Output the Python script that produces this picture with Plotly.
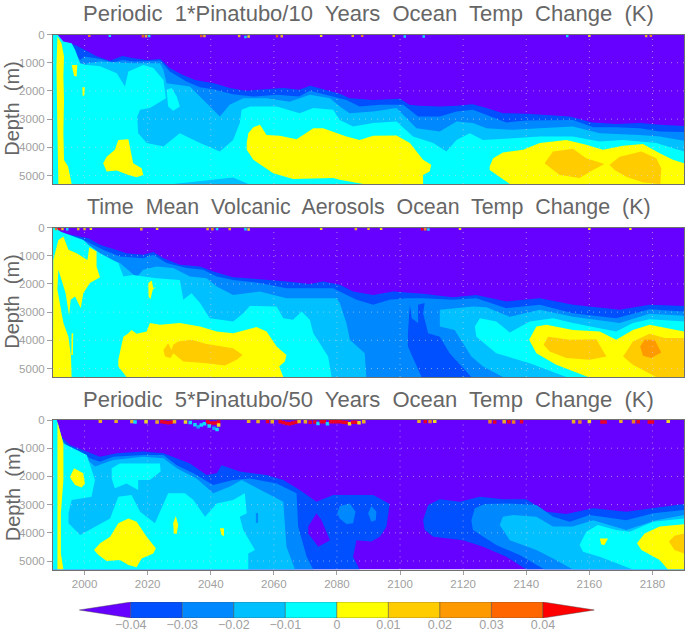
import plotly.graph_objects as go

# ---- axis and scale values
YEAR_RANGE = [1990, 2190]
DEPTH_RANGE = [5300, 0]
YEAR_TICKS = [2000, 2020, 2040, 2060, 2080, 2100, 2120, 2140, 2160, 2180]
DEPTH_TICKS = [0, 1000, 2000, 3000, 4000, 5000]
COLOR_LEVELS = [-0.04, -0.03, -0.02, -0.01, 0, 0.01, 0.02, 0.03, 0.04]
COLORS = ["#6600ff", "#0050ff", "#0088ff", "#00c0ff", "#00ffff",
          "#ffff00", "#ffcc00", "#ff9900", "#ff6600", "#ff0000"]
TITLES = ["Periodic  1*Pinatubo/10  Years  Ocean  Temp  Change  (K)",
          "Time  Mean  Volcanic  Aerosols  Ocean  Temp  Change  (K)",
          "Periodic  5*Pinatubo/50  Years  Ocean  Temp  Change  (K)"]

# ---- Panel 1 contour outlines: (year, depth m)
p1_m04 = [(1991.4,70),(1992.7,250),(1994.3,280),(1997,370),(2000,540),(2004,780),(2008,930),(2012,760),(2015.5,840),(2019.7,900),(2024,870),(2027,1190),(2031,1430),(2035,1610),(2041,1730),(2046,1900),(2051,1990),(2058,1940),(2063,1900),(2068,1960),(2071.5,1820),(2075.6,1940),(2081,2100),(2084,2260),(2091.5,2320),(2100,2280),(2103,2490),(2106,2530),(2112.6,2550),(2118,2530),(2123,2470),(2127.4,2610),(2132.6,2790),(2140,2810),(2148.5,2880),(2153.8,2910),(2161,3120),(2168.5,3170),(2176,3140),(2182.3,3200),(2190,3240),(2190,5300),(1990,5300)]
p1_m03 = [(1994.3,310),(1998.6,900),(2000,780),(2005,870),(2009,980),(2012,900),(2015.5,960),(2024,920),(2027,1310),(2032.3,1670),(2036.6,1870),(2040.8,1940),(2047,2120),(2053.5,2200),(2061,2140),(2068,2200),(2071.4,1990),(2076.7,2140),(2083,2320),(2087.2,2550),(2093.6,2490),(2101,2490),(2105.7,2910),(2112.6,2910),(2117.9,2730),(2123.1,2670),(2127.4,2850),(2133.7,3120),(2140,3050),(2148.5,3030),(2154.8,3030),(2161.2,3290),(2168.5,3290),(2176,3320),(2182.3,3440),(2190,3460),(2190,5300),(1990,5300)]
p1_m02 = [(2000.7,1020),(2004.9,960),(2015.4,1020),(2023.9,1020),(2025,1250),(2026,1730),(2033.4,1840),(2038.7,2430),(2042.9,2910),(2046,2490),(2050.3,2260),(2057.7,2260),(2065,2380),(2071.4,2140),(2077.8,2260),(2080.9,2550),(2084,2790),(2091.5,2730),(2098.9,2610),(2105.2,3320),(2112.6,3440),(2117.9,3080),(2123.1,3140),(2127.4,3320),(2135.8,3380),(2144.3,3320),(2154.8,3260),(2163.3,3500),(2176,3560),(2182.3,3620),(2190,3770),(2190,5300),(1990,5300)]
p1_m01 = [(1990,0),(1991.4,0),(1993.3,250),(1995.9,310),(1997,540),(1998.6,1020),(2000.7,1080),(2004.9,1130),(2010.2,1370),(2012.8,1840),(2013.9,1310),(2016.5,1190),(2018.6,1080),(2021.8,1190),(2025,1610),(2025.8,2260),(2020.7,2610),(2017.6,2670),(2016.7,2910),(2017,3500),(2019.7,3850),(2025,3970),(2030.2,3500),(2036.6,3850),(2042.9,4150),(2047.1,3740),(2049.2,3140),(2049.8,2670),(2052.4,2550),(2060.9,2550),(2068.2,2790),(2072.5,2610),(2078.8,2670),(2080.9,3030),(2085.1,3260),(2091.5,3140),(2098.9,3080),(2104.1,3620),(2110.5,3850),(2114.7,4150),(2117.9,3740),(2122.1,3500),(2126.3,3740),(2135.8,3680),(2144.3,3620),(2154.8,3620),(2163.3,3790),(2170.7,3740),(2181.2,3850),(2190,4150),(2190,5300),(1990,5300)]
p1_m01_bubble = [(2026,1960),(2027.6,1900),(2029.2,2200),(2030.2,2550),(2028.1,2700),(2026.5,2550)]
p1_m02_floor = [(2028.1,5300),(2036.6,5190),(2047.1,5070),(2051.9,5300)]
p1_y_stripe = [(1991.4,70),(1992.7,310),(1993.5,780),(1993.3,1490),(1993.5,2320),(1993.3,3500),(1993.5,4450),(1994.8,4680),(1995.9,5300),(1991.7,5300),(1991.4,3500),(1991.1,1130)]
p1_y_a = [(1995.9,1080),(1997.7,1080),(1997.5,1490),(1996.7,1470)]
p1_y_b = [(1999.3,1870),(2000.1,1870),(1999.9,2170),(1999.4,2170)]
p1_y_c = [(2005.9,4560),(2007,4330),(2009.6,4090),(2010.7,3740),(2013.9,3710),(2014.9,4330),(2015.4,4560),(2018.1,4740),(2018.6,4980),(2016.5,5060),(2013.9,4980),(2010.2,4820),(2007,4860)]
p1_y_d = [(2051.4,3850),(2051.9,3500),(2053.5,3290),(2055.6,3200),(2057.7,3560),(2061.9,3590),(2067.2,3710),(2072.5,3320),(2075.6,3320),(2083,3620),(2087.2,3740),(2091.5,3590),(2098.9,3580),(2103.1,3850),(2107.3,4440),(2109.9,4620),(2109.4,4860),(2107.3,4980),(2107.3,5300),(2088.3,5300),(2080.9,5150),(2078.8,5090),(2066.1,5120),(2059.8,4920),(2053.5,4440),(2051.4,4090)]
p1_y_e = [(2128.4,4680),(2129.5,4390),(2132.6,4180),(2139,4090),(2144.3,3850),(2152.7,3740),(2159,3910),(2164.3,4090),(2170.7,3940),(2177,3880),(2182.3,4210),(2186.5,4440),(2190,4560),(2190,5300),(2134.8,5300),(2130.5,4980),(2128.4,4800)]
p1_o_a = [(2145.8,4560),(2148.5,4150),(2154.8,4050),(2159,4390),(2164.8,4590),(2161.2,4800),(2156.9,5090),(2150.6,4980)]
p1_o_b = [(2166.4,4620),(2169.6,4330),(2176.5,4150),(2181.2,4390),(2182.8,4740),(2182.5,5300),(2177,5250),(2171.7,5040),(2168,4800)]

# ---- Panel 2 contour outlines
p2_m04 = [(1990.6,140),(1993.3,200),(1997.5,320),(2001.2,380),(2004.9,610),(2009.1,770),(2013.3,910),(2018.6,970),(2021.8,870),(2025,1090),(2030.2,1320),(2036.6,1380),(2040.8,1560),(2047.1,1760),(2055.6,1830),(2064,1910),(2071.4,2000),(2075.6,1910),(2080.9,2030),(2085.1,2270),(2091.5,2390),(2097.8,2270),(2107.3,2350),(2116.8,2470),(2124.2,2390),(2133.7,2620),(2144.3,2510),(2154.8,2740),(2169.6,2920),(2179.1,2740),(2190,2780),(2190,5300),(1990,5300)]
p2_m03 = [(1998.6,380),(2001.7,560),(2005.9,790),(2011.2,1030),(2018.6,1090),(2021.8,970),(2026,1260),(2032.3,1440),(2037.6,1500),(2041.9,1740),(2047.1,1860),(2055.6,1970),(2064,2150),(2071.4,2150),(2078.8,2150),(2080.9,2270),(2086.2,2560),(2091.5,2740),(2096.7,2560),(2102,2510),(2107.3,2510),(2116.8,2560),(2124.2,2510),(2133.7,2860),(2144.3,2740),(2154.8,3040),(2168.5,3220),(2179.1,2900),(2190,2980),(2190,5300),(1990,5300)]
p2_m02_left = [(2001.2,670),(2005.9,1030),(2011.2,1260),(2016.5,1760),(2018.6,1500),(2022.8,1380),(2028.1,1440),(2033.4,1740),(2038.7,1800),(2041.9,2090),(2047.1,2390),(2055.6,2270),(2064,2510),(2072.5,2510),(2079.9,2510),(2080.9,2680),(2083,3390),(2084.1,3980),(2088.8,4460),(2089.3,5300),(1990,5300)]
p2_m02_right = [(2112.6,2920),(2112.6,3510),(2117.3,3630),(2122.6,4570),(2126.3,4930),(2132.6,5300),(2190,5300),(2190,3130),(2179.1,3060),(2169.6,3390),(2154.8,3160),(2144.3,2920),(2134.8,3160),(2127.4,2830),(2123.1,2800)]
p2_m04_wedge = [(2103.1,2740),(2102.5,3750),(2102.5,4220),(2106.8,5300),(2122.6,5300),(2115.7,4460),(2112.6,3870),(2108.9,3750),(2107.3,3040),(2107.8,2680),(2105.7,2740),(2105.7,3390),(2103.7,3220)]
p2_m01_left = [(1990,0),(1990.8,0),(1992.5,150),(1996,300),(1999.6,440),(2001.2,610),(2004.9,910),(2010.7,1260),(2012.3,1740),(2015.4,1680),(2022.8,1800),(2030.2,1860),(2031.3,2560),(2033.9,2330),(2036.6,2680),(2039.7,3220),(2047.1,3330),(2050.3,3040),(2052.4,2780),(2060.9,2800),(2063,3220),(2066.1,3270),(2068.8,2980),(2071.4,3270),(2072.5,3750),(2077.2,4570),(2078.3,5300),(1990,5300)]
p2_m01_right = [(2123.7,3510),(2125.3,3220),(2130.5,3330),(2134.8,3720),(2141.1,3330),(2148.5,3220),(2154.8,3390),(2168.5,3690),(2173.8,3390),(2179.1,3250),(2190,3330),(2190,5300),(2152.7,5300),(2141.1,4810),(2130.5,4460),(2124.2,3870)]
p2_y_left = [(1990.1,1150),(1991.7,440),(1993.3,320),(1994.9,790),(1997.5,910),(2000.9,1150),(2001.5,700),(2003.8,850),(2003.8,1380),(2004.9,1760),(2001.7,1970),(1999.6,2330),(1998.8,2860),(1997,2450),(1995.6,2560),(1995.1,3130),(1994,2330),(1991.7,1500),(1991.4,2210),(1993.3,3390),(1994.9,3870),(1995.7,4570),(1995.9,5300),(1990,5300)]
p2_y_spike = [(1995.9,3750),(1996.4,3750),(1996.3,4520),(1995.8,4520)]
p2_y_a = [(2020.2,1970),(2021.3,1880),(2021.8,2150),(2022.8,2090),(2021.6,2210),(2020.9,2540),(2020.3,2450)]
p2_y_b = [(2010.7,4690),(2012.3,3870),(2013.9,3750),(2014.9,3630),(2016.5,3770),(2019.7,3690),(2020.7,3390),(2023.9,3450),(2030.2,3390),(2036.6,3510),(2041.9,3690),(2047.1,3750),(2054.5,3530),(2057.7,3690),(2060.9,4220),(2064,4520),(2063.5,4750),(2061.7,4930),(2063,5300),(2013.3,5300),(2010.7,4930)]
p2_o_a = [(2025,4340),(2026.5,4100),(2027.6,4340),(2028.1,4160),(2029.7,4040),(2033.9,3980),(2038.7,4130),(2043.4,4220),(2047.1,4280),(2050.1,4520),(2048.2,4690),(2044.5,4890),(2038.7,4810),(2031.3,4750),(2028.1,4460),(2027.3,4630),(2025.5,4570)]
p2_y_c = [(2140.9,3980),(2143.2,3510),(2146.4,3450),(2154.8,3630),(2163.3,3690),(2168.5,3980),(2173.8,3630),(2179.1,3450),(2190,3690),(2190,5300),(2159.6,5300),(2149.5,4870),(2143.2,4460)]
p2_o_b = [(2145.5,4160),(2146.9,3870),(2153.8,3980),(2162.2,3960),(2165.4,4570),(2160.1,4690),(2152.7,4630),(2147.4,4400)]
p2_o_c = [(2170.7,4570),(2173.8,4040),(2179.1,3770),(2183.9,3920),(2190,3920),(2190,5300),(2181.2,5300),(2173.8,4870)]
p2_d_a = [(2176.1,4220),(2177.5,3980),(2180.7,3980),(2182.8,4430),(2179.6,4630),(2177,4550)]

# ---- Panel 3 contour outlines
p3_m04_left = [(1991.4,60),(1992.7,590),(1995.4,890),(1999.6,1060),(2004.9,1300),(2010.2,1180),(2018.6,1120),(2025,1180),(2029.2,1360),(2033.4,1540),(2038.7,1950),(2041.9,1890),(2043.4,1600),(2049.2,1830),(2057.7,1950),(2063,2130),(2068.2,2480),(2073.5,2900),(2078.8,2660),(2080.9,2660),(2091.5,2660),(2096.7,2980),(2095.7,3780),(2093.6,4140),(2090.9,4310),(2086.2,4260),(2085.1,4850),(2087.2,5300),(1990,5300)]
p3_m04_right = [(2107.3,3550),(2108.9,3010),(2112.6,2810),(2118.9,2900),(2125.3,2720),(2132.6,2810),(2140,2810),(2146.4,3250),(2152.7,3330),(2161.2,3130),(2171.7,3250),(2180.2,3130),(2190,2980),(2190,5300),(2140,5300),(2133.7,4850),(2126.3,4490),(2120,4260),(2110.5,4140),(2107.8,3900)]
p3_m03_left = [(1992.2,590),(1994.3,890),(1998.6,1120),(2001.7,1360),(2004.9,1480),(2009.1,1300),(2018.6,1240),(2025,1240),(2029.2,1600),(2034.5,1890),(2040.8,2300),(2047.1,2130),(2052.4,2070),(2060.9,2250),(2067.2,2600),(2067.7,3780),(2070.4,4850),(2072.5,5300),(1990,5300)]
p3_m03_right = [(2122.6,3550),(2123.7,3130),(2126.8,2980),(2133.7,2960),(2143.2,3010),(2148.5,3430),(2153.8,3610),(2160.1,3370),(2171.7,3550),(2180.2,3310),(2190,3190),(2190,5300),(2145.8,5300),(2137.9,4790),(2130.5,4430),(2123.1,3900)]
p3_m02_left = [(1993.3,830),(1998.6,1180),(2003.3,1650),(2009.1,1420),(2018.6,1300),(2025,1360),(2029.2,1710),(2035.5,2070),(2040.8,2600),(2046.1,2360),(2049.8,2130),(2057.7,2600),(2063,2900),(2064,4490),(2066.7,5300),(1990,5300)]
p3_m02_right = [(2131.6,3720),(2132.6,3430),(2135.8,3370),(2143.2,3430),(2148.5,3780),(2154.8,3780),(2161.2,3550),(2171.7,3900),(2181.2,3550),(2190,3370),(2190,5300),(2154.8,5300),(2148.5,4910),(2143.2,4610),(2134.8,4260)]
p3_m01_up = [(2008.6,1710),(2011.2,1540),(2017.6,1540),(2023.9,1540),(2024.1,1830),(2020.7,2130),(2017,2130),(2017,2480),(2013.3,2250),(2009.6,2420),(2008.6,2070)]
p3_m01_low = [(1990,0),(1991.2,0),(1992,300),(1993.3,830),(2000.7,1240),(2003.3,2130),(2002.2,2720),(1995.9,2840),(1994.9,3310),(1994.9,3660),(1998.6,4080),(2004.4,3720),(2008.1,3490),(2010.7,2720),(2014.9,2660),(2017.6,3250),(2022.3,3660),(2026.5,2600),(2031.8,2600),(2034.5,2840),(2038.2,3430),(2041.9,2960),(2047.1,2840),(2050.8,2600),(2051.4,3310),(2049.2,3430),(2050.3,3900),(2054,4610),(2051.9,4730),(2051.9,5300),(1990,5300)]
p3_m01_right = [(2156.9,4430),(2159,3960),(2162.7,3720),(2168.5,3900),(2172.8,3960),(2180.2,3610),(2190,3490),(2190,5300),(2173.8,5300),(2163.3,4850),(2158,4670)]
p3_speck = [(2054.3,3300),(2055,3300),(2055,3650),(2054.3,3650)]
p3_pocket = [(2070.9,3780),(2073.5,3310),(2075.1,3550),(2077.8,4260),(2074.1,4490),(2070.9,4020)]
p3_m03_a = [(2080.1,3310),(2080.9,3050),(2084.1,2960),(2085.9,3250),(2085.1,3660),(2083,3690),(2080.9,3490)]
p3_m03_b = [(2089.9,3310),(2090.9,3050),(2092.5,3250),(2092.3,3550),(2090.9,3610)]
p3_y_stripe = [(1991.4,60),(1992.2,350),(1993.3,830),(1993.3,2130),(1992.5,3310),(1992.5,4730),(1993.3,5300),(1991.4,5300)]
p3_y_a = [(1995.4,2010),(1996.7,1710),(1999.6,1890),(2000.1,2250),(1999.1,2390),(1997,2300),(1995.9,2130)]
p3_y_b = [(2003,4610),(2004.9,4370),(2008.1,4140),(2010.7,3660),(2013.9,3490),(2016.5,3610),(2019.7,4140),(2022.6,4550),(2021.8,4730),(2018.1,4910),(2016.5,5220),(2013.9,5140),(2011.2,4960),(2007,5000),(2004.4,4790)]
p3_y_c = [(2028.1,3660),(2028.9,3400),(2029.7,3720),(2029.2,4040),(2028.3,4020)]
p3_y_d = [(2042.9,3840),(2044.2,3840),(2044.2,4110),(2043.4,4080)]
p3_y_e = [(2163.3,4200),(2165.9,4200),(2164.8,4430),(2163.8,4410)]
p3_y_f = [(2175.1,4370),(2177.5,4020),(2182.3,3780),(2190,3700),(2190,5300),(2184.9,5300),(2182.3,4960),(2176.5,4610)]
p3_o_a = [(2185.2,4310),(2187,4100),(2190,4020),(2190,4730),(2187,4610)]

# ---- Near-surface speckle: (year, depth m, K)
p1_spots = [(2001.5,40,0.02),(2008,40,-0.01),(2018.5,60,0.03),(2019.5,60,0.01),(2020.5,50,-0.01),(2037,50,0.03),(2038,50,0.01),(2049,50,0.01),(2051,90,-0.01),(2052,70,0),(2061,60,0.03),(2062.5,60,0.01),(2075,40,0),(2085,40,0.01),(2088,40,0.02),(2098,40,0.01),(2101.5,70,-0.01),(2107.5,70,-0.01),(2153,50,-0.01),(2160,40,0),(2178,50,0.01),(2179.5,40,0.02)]
p2_spots = [(1991,50,0.03),(1992,50,0.05),(1993,50,0.01),(1994.5,60,-0.01),(1998,50,0.01),(2000,50,0.01),(2002,40,0),(2018,60,0.01),(2023,40,0),(2039,50,0.01),(2040.5,60,0.02),(2042,50,-0.01),(2046,50,0.01),(2051,60,-0.01),(2052,70,0),(2075,40,0),(2086,50,0.01),(2090,40,0.01),(2094,40,0),(2107,60,0.05),(2108,60,0.02),(2109,70,-0.01),(2119,40,0),(2160,40,0),(2173,40,0)]
p3_spots = [(2005,40,0.01),(2010,40,0.01),(2015,50,0.01),(2016,70,-0.01),(2019.5,60,0),(2023,70,0.01),(2024.5,60,0.05),(2025.5,80,0.05),(2026.5,100,0.05),(2027.5,80,0.05),(2028.5,60,0.01),(2032,70,0),(2033.5,90,-0.01),(2035,170,-0.01),(2036,240,-0.02),(2037,180,-0.01),(2038,130,-0.01),(2039,50,0.05),(2039.5,110,0.05),(2040.5,110,0.05),(2041.5,110,0.05),(2042.5,70,0.05),(2039.5,210,-0.01),(2041,290,-0.02),(2042,340,-0.01),(2042.5,180,0),(2052,40,0.01),(2055,50,0.01),(2058,50,0.05),(2059.5,60,0.01),(2062,60,0.05),(2063,90,0.05),(2064,120,0.05),(2065,130,0.05),(2066,110,0.05),(2067,80,0.05),(2068,50,0.01),(2070,60,0.01),(2071.5,80,0.05),(2073,70,0.05),(2074,120,-0.01),(2075,60,0.05),(2076,60,0.05),(2077,130,-0.01),(2078,60,0.05),(2079,60,0.05),(2080,60,0.05),(2081,60,0.05),(2082,80,0.05),(2083,90,0.05),(2084,130,0),(2085,80,0.05),(2086,80,0.05),(2087,100,0),(2088.5,60,0.01),(2106,40,0.01),(2108,50,0.05),(2109.5,50,0.02),(2111,40,0),(2128.5,60,0.02),(2130,70,0.05),(2133,60,0.01),(2134.5,60,0.05),(2136,70,0.02),(2138.5,60,0.05),(2155,60,0.01),(2157,70,0.02),(2160,50,0),(2164,70,0.05),(2165,70,0.05),(2170,40,0.01),(2174,60,0.02),(2175.5,60,0.05),(2179,70,0.05),(2180,70,0.05),(2185,40,0)]

# paint order: (level index into COLORS, outline)
p1_regions = [(1,p1_m04),(2,p1_m03),(3,p1_m02),(4,p1_m01),(4,p1_m01_bubble),(3,p1_m02_floor),
              (5,p1_y_stripe),(5,p1_y_a),(5,p1_y_b),(5,p1_y_c),(5,p1_y_d),(5,p1_y_e),(6,p1_o_a),(6,p1_o_b)]
p2_regions = [(1,p2_m04),(2,p2_m03),(3,p2_m02_left),(3,p2_m02_right),(1,p2_m04_wedge),(4,p2_m01_left),(4,p2_m01_right),
              (5,p2_y_left),(5,p2_y_spike),(5,p2_y_a),(5,p2_y_b),(6,p2_o_a),(5,p2_y_c),(6,p2_o_b),(6,p2_o_c),(7,p2_d_a)]
p3_regions = [(1,p3_m04_left),(1,p3_m04_right),(2,p3_m03_left),(2,p3_m03_right),(3,p3_m02_left),(3,p3_m02_right),
              (2,p3_speck),(0,p3_pocket),(2,p3_m03_a),(2,p3_m03_b),(4,p3_m01_up),(4,p3_m01_low),(4,p3_m01_right),
              (5,p3_y_stripe),(5,p3_y_a),(5,p3_y_b),(5,p3_y_c),(5,p3_y_d),(5,p3_y_e),(5,p3_y_f),(6,p3_o_a)]
PANELS = [(p1_regions, p1_spots), (p2_regions, p2_spots), (p3_regions, p3_spots)]

PW, PH = 685, 632
PLOT_X = [53, 684]
PLOT_Y = [(34.5, 184), (227.5, 377), (420, 569.5)]
TITLE_SIZES = [22, 21.4, 22]
SPOT_SIZES = [2.5, 2.5, 3.5]
FONT = "Liberation Sans"
TICK = "#a0a0a0"
INK = "#666666"


def spot_color(v):
    idx = sum(1 for lv in COLOR_LEVELS if v >= lv)
    return COLORS[idx]


fig = go.Figure()

for n, (regions, spots) in enumerate(PANELS, start=1):
    xa = "x" if n == 1 else f"x{n}"
    ya = "y" if n == 1 else f"y{n}"
    bg_x = [YEAR_RANGE[0], YEAR_RANGE[1], YEAR_RANGE[1], YEAR_RANGE[0]]
    bg_y = [DEPTH_RANGE[1], DEPTH_RANGE[1], DEPTH_RANGE[0], DEPTH_RANGE[0]]
    fig.add_trace(go.Scatter(x=bg_x, y=bg_y, fill="toself", fillcolor=COLORS[0], mode="lines",
                             line=dict(width=0), xaxis=xa, yaxis=ya, hoverinfo="skip", showlegend=False))
    for level, pts in regions:
        fig.add_trace(go.Scatter(x=[p[0] for p in pts], y=[p[1] for p in pts], fill="toself",
                                 fillcolor=COLORS[level], mode="lines", line=dict(width=0),
                                 xaxis=xa, yaxis=ya, hoverinfo="skip", showlegend=False))
    fig.add_trace(go.Scatter(x=[s[0] for s in spots], y=[s[1] for s in spots], mode="markers",
                             marker=dict(symbol="square", size=SPOT_SIZES[n - 1], opacity=0.85,
                                         color=[spot_color(s[2]) for s in spots], line=dict(width=0)),
                             xaxis=xa, yaxis=ya, hoverinfo="skip", showlegend=False))

# colour bar on its own axis, values in K
step = COLOR_LEVELS[1] - COLOR_LEVELS[0]
edges = [COLOR_LEVELS[0] - step] + COLOR_LEVELS + [COLOR_LEVELS[-1] + step]
for i, col in enumerate(COLORS):
    a, b = edges[i], edges[i + 1]
    if i == 0:
        xs, ys = [a, b, b, a], [0.5, 1, 0, 0.5]
    elif i == len(COLORS) - 1:
        xs, ys = [a, b, a, a], [1, 0.5, 0, 1]
    else:
        xs, ys = [a, b, b, a, a], [0, 0, 1, 1, 0]
    fig.add_trace(go.Scatter(x=xs, y=ys, fill="toself", fillcolor=col, mode="lines",
                             line=dict(width=0.8, color="rgba(70,70,70,0.55)"),
                             xaxis="x4", yaxis="y4", hoverinfo="skip", showlegend=False))

layout = dict(width=PW, height=PH, autosize=False, margin=dict(l=0, r=0, t=0, b=0),
              paper_bgcolor="white", plot_bgcolor="white", showlegend=False)
shapes, annots = [], []
for n in range(1, 4):
    top, bot = PLOT_Y[n - 1]
    sx = "" if n == 1 else str(n)
    layout[f"xaxis{sx}"] = dict(
        domain=[PLOT_X[0] / PW, PLOT_X[1] / PW], range=YEAR_RANGE, anchor=f"y{sx}", automargin=False,
        tickvals=YEAR_TICKS if n == 3 else [], ticks="outside" if n == 3 else "", ticklen=4, tickcolor=TICK,
        tickfont=dict(family=FONT, size=11.5, color=TICK), showgrid=False, zeroline=False,
        showline=True, mirror=True, linecolor="#707070", linewidth=1, layer="above traces")
    layout[f"yaxis{sx}"] = dict(
        domain=[1 - bot / PH, 1 - top / PH], range=DEPTH_RANGE, anchor=f"x{sx}", automargin=False,
        tickvals=DEPTH_TICKS, ticks="outside", ticklen=5, tickcolor=TICK,
        tickfont=dict(family=FONT, size=11.5, color=TICK), tickformat="d", showgrid=False, zeroline=False,
        showline=True, mirror=True, linecolor="#707070", linewidth=1, layer="above traces")
    xr, yr = f"x{sx}", f"y{sx}"
    for yv in YEAR_TICKS:
        shapes.append(dict(type="line", xref=xr, yref=yr, x0=yv, x1=yv, y0=DEPTH_RANGE[0], y1=DEPTH_RANGE[1],
                           line=dict(color="rgba(215,215,215,0.6)", width=1, dash="1px 5px"), layer="above"))
    for dv in DEPTH_TICKS[1:]:
        shapes.append(dict(type="line", xref=xr, yref=yr, x0=YEAR_RANGE[0], x1=YEAR_RANGE[1], y0=dv, y1=dv,
                           line=dict(color="rgba(215,215,215,0.6)", width=1, dash="1px 5px"), layer="above"))
    annots.append(dict(text=TITLES[n - 1], xref="paper", yref="paper", x=368.5 / PW, y=1 - (top - 21) / PH,
                       xanchor="center", yanchor="middle", showarrow=False,
                       font=dict(family=FONT, size=TITLE_SIZES[n - 1], color=INK)))
    annots.append(dict(text="Depth  (m)", xref="paper", yref="paper", x=12.5 / PW, y=1 - (top + bot) / 2 / PH,
                       xanchor="center", yanchor="middle", showarrow=False, textangle=-90,
                       font=dict(family=FONT, size=20, color=INK)))

layout["xaxis4"] = dict(domain=[79.2 / PW, 594.5 / PW], range=[edges[0], edges[-1]], anchor="free",
                        position=1 - 615.5 / PH, automargin=False,
                        tickvals=COLOR_LEVELS, tickformat=".2~f", ticks="", showgrid=False, zeroline=False, showline=False,
                        tickfont=dict(family=FONT, size=12.5, color=TICK))
layout["yaxis4"] = dict(domain=[1 - 618 / PH, 1 - 602 / PH], range=[0, 1], anchor="x4", visible=False, automargin=False)
layout["shapes"] = shapes
layout["annotations"] = annots
fig.update_layout(**layout)

fig.write_html("out.html", config={"displayModeBar": False},
               post_script="document.body.style.margin='0';document.body.style.overflow='hidden';")
